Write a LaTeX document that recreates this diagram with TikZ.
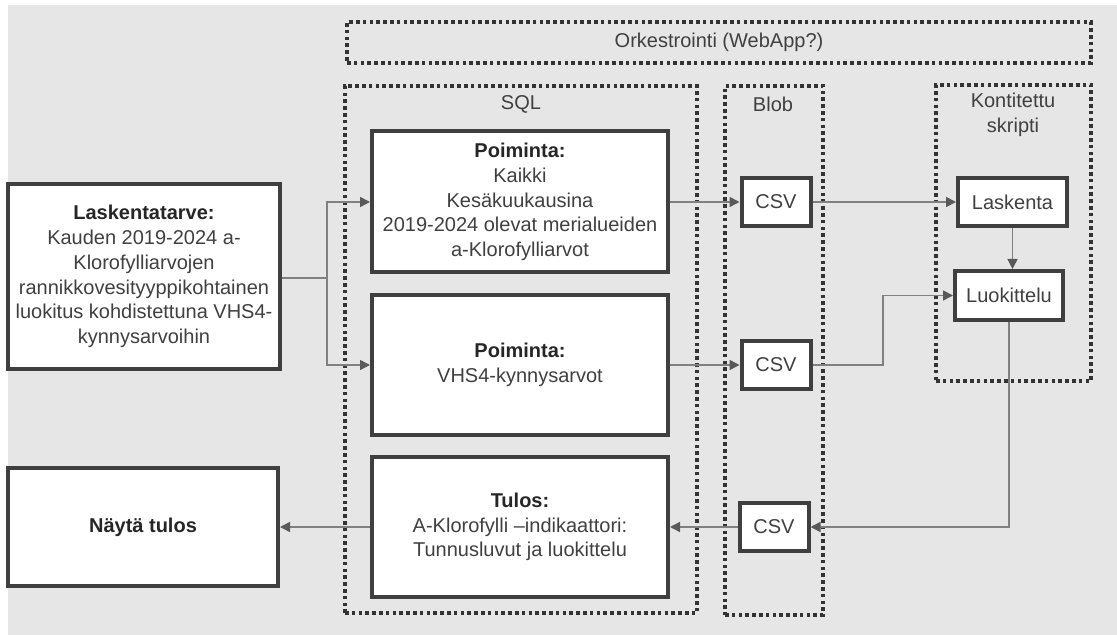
\documentclass[tikz,border=0pt]{standalone}
\usepackage{fontspec}
\setmainfont{Liberation Sans}
\usetikzlibrary{arrows.meta,positioning}
\definecolor{bggray}{HTML}{E6E6E6}
\definecolor{boxgray}{HTML}{3F3F3F}
\definecolor{dotgray}{HTML}{333333}
\definecolor{linegray}{HTML}{808080}
\definecolor{tipgray}{HTML}{595959}
\definecolor{txtgray}{HTML}{404040}
\definecolor{headgray}{HTML}{262626}
\begin{document}
\begin{tikzpicture}[x=0.5pt,y=-0.5pt,
	font=\fontsize{10}{12.35}\selectfont,text=txtgray,
	procbox/.style={draw=boxgray,line width=2pt,fill=white,align=center,inner sep=0pt},
	groupbox/.style={draw=dotgray,line width=1.8pt,dash pattern=on 1.8pt off 1.6pt,inner sep=0pt},
	flow/.style={draw=linegray,line width=0.75pt,-{Triangle[length=5pt,width=5pt,color=tipgray]}}]
\useasboundingbox (0,0) rectangle (1117,635);
\fill[white] (0,0) rectangle (1117,635);
\fill[bggray] (8,5) rectangle (1117,635);
% groups
\node[groupbox,minimum width=372pt,minimum height=20.5pt] (orch) at (719,42.5) {Orkestrointi (WebApp?)};
\node[groupbox,minimum width=176pt,minimum height=263.5pt] (sqlgrp) at (521,349.5) {};
\node[groupbox,minimum width=49pt,minimum height=264.5pt] (blobgrp) at (774,350.5) {};
\node[groupbox,minimum width=77.5pt,minimum height=148pt] (kontgrp) at (1013.5,233) {};
\node (sqllbl) at (521,104) {SQL};
\node (bloblbl) at (773,104) {Blob};
\node[align=center] (kontlbl) at (1013,115) {Kontitettu\\skripti};
% boxes
\node[procbox,minimum width=136pt,minimum height=92.5pt] (need) at (144,276.5)
	{{\bfseries\color{headgray}Laskentatarve:}\\Kauden 2019-2024 a-\\Klorofylliarvojen\\rannikkovesityyppikohtainen\\luokitus kohdistettuna VHS4-\\kynnysarvoihin};
\node[procbox,minimum width=148pt,minimum height=70.5pt] (pick1) at (520,202)
	{{\bfseries\color{headgray}Poiminta:}\\Kaikki\\Kesäkuukausina\\2019-2024 olevat merialueiden\\a-Klorofylliarvot};
\node[procbox,minimum width=148pt,minimum height=70pt] (pick2) at (520,365)
	{{\bfseries\color{headgray}Poiminta:}\\VHS4-kynnysarvot};
\node[procbox,minimum width=148pt,minimum height=70pt] (result) at (520,527)
	{{\bfseries\color{headgray}Tulos:}\\A-Klorofylli –indikaattori:\\Tunnusluvut ja luokittelu};
\node[procbox,minimum width=135pt,minimum height=59pt] (show) at (143,527)
	{{\bfseries\color{headgray}Näytä tulos}};
\node[procbox,minimum width=34.5pt,minimum height=24pt] (csv1) at (776,202) {CSV};
\node[procbox,minimum width=34.5pt,minimum height=24pt] (csv2) at (776,365) {CSV};
\node[procbox,minimum width=34.5pt,minimum height=24pt] (csv3) at (774,527) {CSV};
\node[procbox,minimum width=54.5pt,minimum height=24pt] (calc) at (1012.5,202) {Laskenta};
\node[procbox,minimum width=54pt,minimum height=24.5pt] (classify) at (1009,295.5) {Luokittelu};
% connectors
\coordinate (split) at (327,278);
\coordinate (jog) at (883,365);
\draw[flow] (need.east |- split) -- (split) |- (pick1.west);
\draw[flow] (split) |- (pick2.west);
\draw[flow] (pick1.east) -- (csv1.west);
\draw[flow] (pick2.east) -- (csv2.west);
\draw[flow] (csv1.east) -- (calc.west);
\draw[flow] (calc.south) -- (calc.south |- classify.north);
\draw[flow] (csv2.east) -- (jog) |- (classify.west);
\draw[flow] (classify.south) |- (csv3.east);
\draw[flow] (csv3.west) -- (result.east);
\draw[flow] (result.west) -- (show.east);
\end{tikzpicture}
\end{document}
